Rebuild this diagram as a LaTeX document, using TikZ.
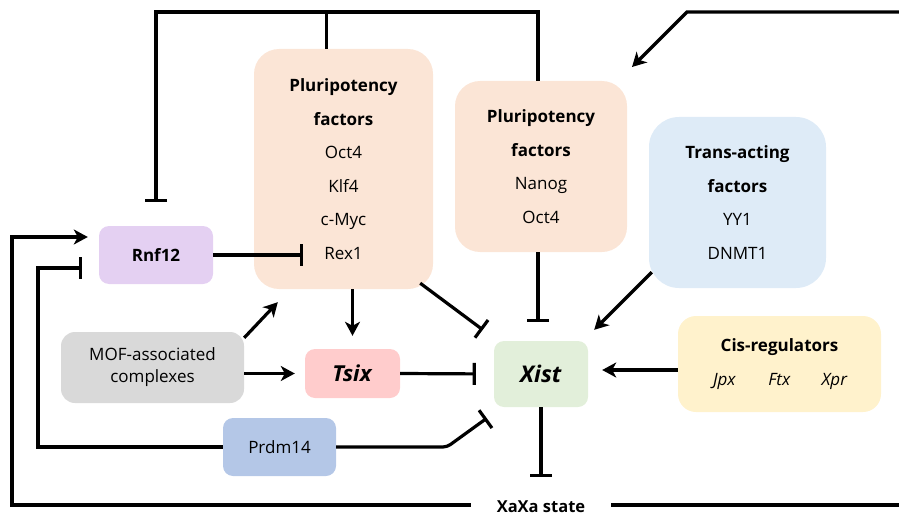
\documentclass[tikz,border=0pt]{standalone}
\usepackage{fontspec}
\setmainfont{Open Sans}
\usetikzlibrary{arrows.meta}
\definecolor{peach}{HTML}{FBE5D6}
\definecolor{transblue}{HTML}{DEEBF7}
\definecolor{rnfpurple}{HTML}{E4D0F2}
\definecolor{mofgray}{HTML}{D9D9D9}
\definecolor{tsixpink}{HTML}{FFCCCC}
\definecolor{prdmblue}{HTML}{B4C7E7}
\definecolor{xistgreen}{HTML}{E2EFDA}
\definecolor{cisyellow}{HTML}{FFF2CC}
\begin{document}
\begin{tikzpicture}[x=1pt,y=-1pt,
  box/.style={draw=none, inner sep=0pt, align=center, rounded corners=10pt,
    font=\fontsize{17}{33.5}\selectfont},
  conn/.style={line width=3.2pt, black},
  arr/.style={conn, -{Stealth[length=14pt,width=15pt,inset=4pt]}},
  inh/.style={conn, -{Bar[width=22pt]}},
  plain/.style={conn}
]
\useasboundingbox (0,0) rectangle (899,516);

% boxes
\node[box, fill=peach, rounded corners=25pt, minimum width=179pt, minimum height=240pt]
  (b1) at (343.5,169) {\textbf{Pluripotency}\\\textbf{factors}\\Oct4\\Klf4\\c-Myc\\Rex1};
\node[box, fill=peach, rounded corners=25pt, minimum width=172pt, minimum height=171pt]
  (b2) at (541,166.5) {\textbf{Pluripotency}\\\textbf{factors}\\Nanog\\Oct4};
\node[box, fill=transblue, rounded corners=30pt, minimum width=177pt, minimum height=171pt]
  (trans) at (737.5,202.5) {\textbf{Trans-acting}\\\textbf{factors}\\YY1\\DNMT1};
\node[box, fill=rnfpurple, minimum width=114pt, minimum height=58pt]
  (rnf) at (156,255) {\textbf{Rnf12}};
\node[box, fill=mofgray, rounded corners=14pt, minimum width=183pt, minimum height=71pt,
  font=\fontsize{17}{22}\selectfont]
  (mof) at (152.5,367.5) {MOF-associated\\complexes};
\node[box, fill=tsixpink, minimum width=95pt, minimum height=49pt,
  font=\fontsize{22}{26}\selectfont]
  (tsix) at (352.5,373.5) {\textbf{\textit{Tsix}}};
\node[box, fill=prdmblue, minimum width=113pt, minimum height=58pt]
  (prdm) at (279.5,447) {Prdm14};
\node[box, fill=xistgreen, minimum width=94pt, minimum height=66pt,
  font=\fontsize{23}{26}\selectfont]
  (xist) at (541,374) {\textbf{\textit{Xist}}};
\node[box, fill=cisyellow, rounded corners=18pt, minimum width=203pt, minimum height=96pt,
  font=\fontsize{17}{34}\selectfont]
  (cis) at (779.5,364) {\textbf{Cis-regulators}\\
   \makebox[55pt]{\textit{Jpx}}\makebox[55pt]{\textit{Ftx}}\makebox[55pt]{\textit{Xpr}}};
\node[inner xsep=26pt, inner ysep=0pt, font=\fontsize{16.5}{20}\bfseries]
  (xaxa) at (541,507) {XaXa state};

% free-end coordinates
\coordinate (trstart) at (899,12);
\coordinate (trbend) at (687,12);
\coordinate (trtip) at (632,67);
\coordinate (brend) at (899,505);

% top loop: pluripotency factors inhibit Rnf12
\draw[inh] ([xshift=-3pt]b2.north) -- ([xshift=-3pt]b2.north |- 0,12) -- (rnf.north |- 0,12) -- ([yshift=24pt]rnf.north);
\draw[plain] ([xshift=-17pt]b1.north) -- ([xshift=-17pt]b1.north |- 0,12);

% top right arrow
\draw[arr] (trstart) -- (trbend) -- (trtip);

% Rnf12 inhibits Rex1
\draw[inh] (rnf.east) -- ++(90,0);

% outer loop XaXa -> Rnf12
\draw[arr] ([yshift=2pt]xaxa.west) -- (12,505) -- (12,237) -- ([xshift=-11pt,yshift=18pt]rnf.west);
\draw[plain] ([yshift=2pt]xaxa.east) -- (brend);

% Prdm14 loops
\draw[inh] (prdm.west) -- (38,447) -- (38,268) -- ([xshift=-17pt,yshift=-13pt]rnf.west);
\draw[inh, rounded corners=4pt] (prdm.east) -- (447,447) -- ([xshift=-7pt,yshift=-11pt]xist.south west);

% MOF arrows
\draw[arr] ([yshift=-6pt]mof.north east) -- ([xshift=24pt,yshift=-13pt]b1.south west);
\draw[arr, shorten >=10pt] (mof.east |- tsix.west) -- (tsix.west);

% Pluripotency -> Tsix
\draw[arr, shorten >=13pt] (tsix.north |- b1.south) -- (tsix.north);

% inhibitions on Xist
\draw[inh, shorten >=18pt] (tsix.east) -- (xist.west);
\draw[inh] ([xshift=-13pt,yshift=6pt]b1.south east) -- ([xshift=-11pt,yshift=11pt]xist.north west);
\draw[inh, shorten >=19pt] ([xshift=-3pt]b2.south) -- ([xshift=-3pt]xist.north);

% activations of Xist
\draw[arr] ([xshift=3pt,yshift=16pt]trans.south west) -- ([xshift=6pt,yshift=11pt]xist.north east);
\draw[arr] ([yshift=-6pt]cis.west) -- ([xshift=14pt,yshift=4pt]xist.east);

% Xist inhibits XaXa
\draw[inh] (xist.south) -- ++(0,70);
\end{tikzpicture}
\end{document}
